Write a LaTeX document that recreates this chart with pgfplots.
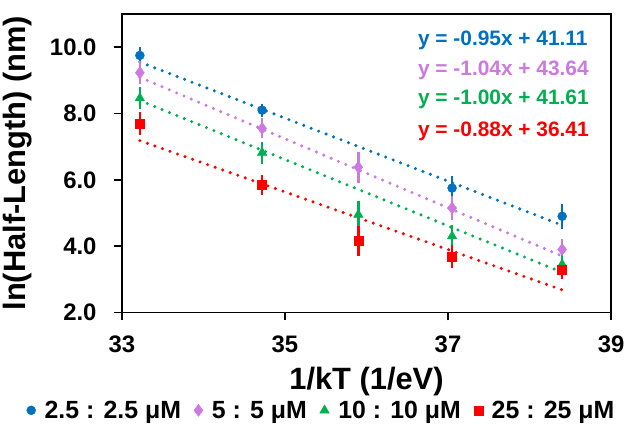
\documentclass[border=0pt]{standalone}
\usepackage{fontspec}
\setmainfont{Liberation Sans}
\usepackage{pgfplots}
\pgfplotsset{compat=1.18}
\usepackage{pgfplotstable}
\definecolor{cblue}{HTML}{0070C0}
\definecolor{cpink}{HTML}{CC79E2}
\definecolor{cgreen}{HTML}{00B050}
\definecolor{cred}{HTML}{FF0000}

% x = 1/kT, y = ln(half-length), e = error
\pgfplotstableread{
x y e
33.22 9.75 0.24
34.72 8.10 0.20
37.05 5.75 0.35
38.40 4.90 0.38
}\blue
\pgfplotstableread{
x y e
33.22 9.23 0.35
34.72 7.55 0.30
35.90 6.38 0.47
37.05 5.15 0.35
38.40 3.90 0.30
}\pink
\pgfplotstableread{
x y e
33.22 8.46 0.33
34.72 6.82 0.33
35.90 4.95 0.40
37.05 4.30 0.33
38.40 3.45 0.35
}\green
\pgfplotstableread{
x y e
33.22 7.70 0.35
34.72 5.85 0.30
35.90 4.15 0.45
37.05 3.68 0.35
38.40 3.30 0.30
}\red

\begin{document}
\begin{tikzpicture}
\begin{axis}[
  scale only axis, width=490bp, height=299bp,
  xmin=33, xmax=39, ymin=2, ymax=11,
  xtick={33,35,37,39}, ytick={2,4,6,8,10},
  axis line style={line width=1.8bp},
  tick style={line width=1.6bp, black},
  tick align=outside, major tick length=8bp,
  xtick pos=bottom, ytick pos=left,
  /pgf/number format/assume math mode=true,
  yticklabel style={xshift=-14bp, /pgf/number format/.cd, fixed, fixed zerofill, precision=1},
  xticklabel style={yshift=-12bp},
  tick label style={font=\fontsize{24}{26}\selectfont\bfseries},
  label style={font=\fontsize{31}{33}\selectfont\bfseries},
  xlabel={1/kT (1/eV)},
  ylabel={ln(Half-Length) (nm)},
  xlabel style={yshift=-7bp},
  ylabel style={yshift=11bp},
  legend columns=4,
  legend style={draw=none, fill=none, at={(0.408,-0.328)}, anchor=center,
    font=\fontsize{25}{27}\selectfont\bfseries, inner sep=0pt,
    /tikz/every odd column/.append style={column sep=7bp},
    /tikz/every even column/.append style={column sep=11bp}},
  legend cell align=left,
  error bars/y dir=both, error bars/y explicit,
  error bars/error mark=none,
  error bars/error bar style={line width=2.4bp},
]
% fitted trendlines (endpoints from the fit equations)
\addplot[cblue, line width=3.4bp, line cap=round, dash pattern=on 0bp off 8bp, forget plot, error bars/y dir=none]
  coordinates {(33.22,9.55) (38.40,4.63)};
\addplot[cpink, line width=3.4bp, line cap=round, dash pattern=on 0bp off 8bp, forget plot, error bars/y dir=none]
  coordinates {(33.22,9.09) (38.40,3.70)};
\addplot[cgreen, line width=3.4bp, line cap=round, dash pattern=on 0bp off 8bp, forget plot, error bars/y dir=none]
  coordinates {(33.22,8.39) (38.40,3.21)};
\addplot[cred, line width=3.4bp, line cap=round, dash pattern=on 0bp off 8bp, forget plot, error bars/y dir=none]
  coordinates {(33.22,7.18) (38.40,2.68)};

\addplot[only marks, mark=*, mark size=4.5bp, color=cblue, error bars/error bar style={cblue}]
  table[x=x, y=y, y error=e] {\blue};
\addplot[only marks, mark=diamond*, mark size=6bp, color=cpink, error bars/error bar style={cpink}]
  table[x=x, y=y, y error=e] {\pink};
\addplot[only marks, mark=triangle*, mark size=5.5bp, color=cgreen, error bars/error bar style={cgreen}]
  table[x=x, y=y, y error=e] {\green};
\addplot[only marks, mark=square*, mark size=4.5bp, color=cred, error bars/error bar style={cred}]
  table[x=x, y=y, y error=e] {\red};
\legend{2.5 : 2.5 μM, 5 : 5 μM, 10 : 10 μM, 25 : 25 μM}

\begin{scope}[every node/.style={anchor=west, inner sep=0pt, font=\fontsize{21}{23}\selectfont\bfseries}]
\node[text=cblue]  at (axis cs:36.63,10.21) {y = -0.95x + 41.11};
\node[text=cpink]  at (axis cs:36.63,9.31)  {y = -1.04x + 43.64};
\node[text=cgreen] at (axis cs:36.63,8.41)  {y = -1.00x + 41.61};
\node[text=cred]   at (axis cs:36.63,7.47)  {y = -0.88x + 36.41};
\end{scope}
\end{axis}
\path (current axis.south west) ++(-121bp,-113bp) rectangle ++(642bp,426bp);
\end{tikzpicture}
\end{document}
